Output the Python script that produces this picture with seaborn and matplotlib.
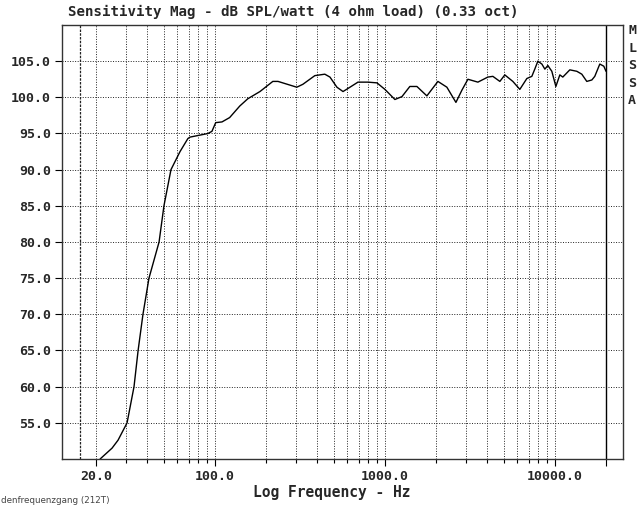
import numpy as np
import pandas as pd
import seaborn as sns
import matplotlib
matplotlib.use("Agg")
import matplotlib.pyplot as plt
from matplotlib.ticker import FixedLocator, NullFormatter

# values
freq_hz = [21.1, 24.8, 26.9, 30.4, 33.4, 35.3, 37.7, 40.9, 46.9, 50.1, 55.1,
           62.3, 69.3, 71.3, 91, 96, 101, 110, 122, 140, 156, 184, 219, 235,
           303, 329, 387, 443, 475, 522, 567, 623, 694, 794, 898, 1000, 1145,
           1260, 1402, 1543, 1766, 2051, 2316, 2618, 2840, 3080, 3525, 4035,
           4318, 4748, 5077, 5661, 6223, 6843, 7322, 7621, 7946, 8390, 8734,
           9098, 9600, 10140, 10700, 11140, 12250, 13470, 14410, 15420, 16510,
           17180, 18390, 19420, 20000]
spl_db = [50.0, 51.5, 52.6, 55.0, 60.0, 65.0, 70.0, 75.0, 80.0, 85.0, 90.0,
          92.5, 94.3, 94.5, 95.0, 95.3, 96.5, 96.6, 97.2, 98.8, 99.8, 100.8,
          102.2, 102.2, 101.4, 101.8, 103.0, 103.2, 102.8, 101.4, 100.8, 101.4,
          102.1, 102.1, 102.0, 101.1, 99.7, 100.1, 101.5, 101.5, 100.2, 102.2,
          101.4, 99.3, 101.0, 102.5, 102.1, 102.8, 102.9, 102.2, 103.1, 102.2,
          101.1, 102.6, 102.9, 103.9, 105.0, 104.6, 103.9, 104.4, 103.6, 101.5,
          103.1, 102.8, 103.8, 103.6, 103.2, 102.2, 102.4, 102.9, 104.6, 104.3,
          103.6]

y_ticks = [55, 60, 65, 70, 75, 80, 85, 90, 95, 100, 105]
x_major = [20, 100, 1000, 10000, 20000]
x_labels = ["20.0", "100.0", "1000.0", "10000.0", ""]
x_minor = [30, 40, 50, 60, 70, 80, 90,
           200, 300, 400, 500, 600, 700, 800, 900,
           2000, 3000, 4000, 5000, 6000, 7000, 8000, 9000]
low_marker = 16
high_marker = 20000

df = pd.DataFrame({"freq": freq_hz, "spl": spl_db})

sns.set_style("white")
plt.rcParams["font.family"] = ["DejaVu Sans Mono", "DejaVu Sans"]
plt.rcParams["font.weight"] = "bold"

fig = plt.figure(figsize=(6.38, 5.07), dpi=100)
ax = fig.add_axes([0.0972, 0.0947, 0.879, 0.856])

sns.lineplot(data=df, x="freq", y="spl", ax=ax, color="black", linewidth=1.0)

ax.set_xscale("log")
ax.set_xlim(12.59, 25119)
ax.set_ylim(50, 110)

ax.xaxis.set_major_locator(FixedLocator(x_major))
ax.set_xticklabels(x_labels)
ax.xaxis.set_minor_locator(FixedLocator(x_minor))
ax.xaxis.set_minor_formatter(NullFormatter())
ax.set_yticks(y_ticks)
ax.set_yticklabels(["%.1f" % v for v in y_ticks])

grid_kw = dict(color="#222222", linestyle=(0, (1, 1.6)), linewidth=0.7)
ax.grid(which="major", axis="both", **grid_kw)
ax.grid(which="minor", axis="x", **grid_kw)

ax.axvline(low_marker, color="#222222", linestyle=(0, (2, 1)), linewidth=0.9)
ax.axvline(high_marker, color="black", linewidth=1.0)

ax.tick_params(axis="both", which="major", direction="out", length=5, width=0.8,
               color="black", labelsize=9.5, pad=3, bottom=True, left=True)
ax.tick_params(axis="x", which="minor", direction="out", length=3, width=0.8,
               color="black", bottom=True)
for lab in ax.get_xticklabels() + ax.get_yticklabels():
    lab.set_fontweight("bold")

for sp in ax.spines.values():
    sp.set_color("#333333")
    sp.set_linewidth(1.0)

ax.set_xlabel("")
ax.set_ylabel("")

fig.text(0.459, 0.976, "Sensitivity Mag - dB SPL/watt (4 ohm load) (0.33 oct)",
         ha="center", va="center", fontsize=10.2, fontweight="bold")
fig.text(0.52, 0.028, "Log Frequency - Hz", ha="center", va="center",
         fontsize=10.5, fontweight="bold")
fig.text(0.991, 0.87, "M\nL\nS\nS\nA", ha="center", va="center",
         fontsize=9.5, fontweight="bold", linespacing=1.45)
fig.text(0.002, 0.004, "denfrequenzgang (212T)", ha="left", va="bottom",
         fontsize=6.3, color="#444444", family="DejaVu Sans", fontweight="normal")

fig.savefig("out.png", dpi=100)
